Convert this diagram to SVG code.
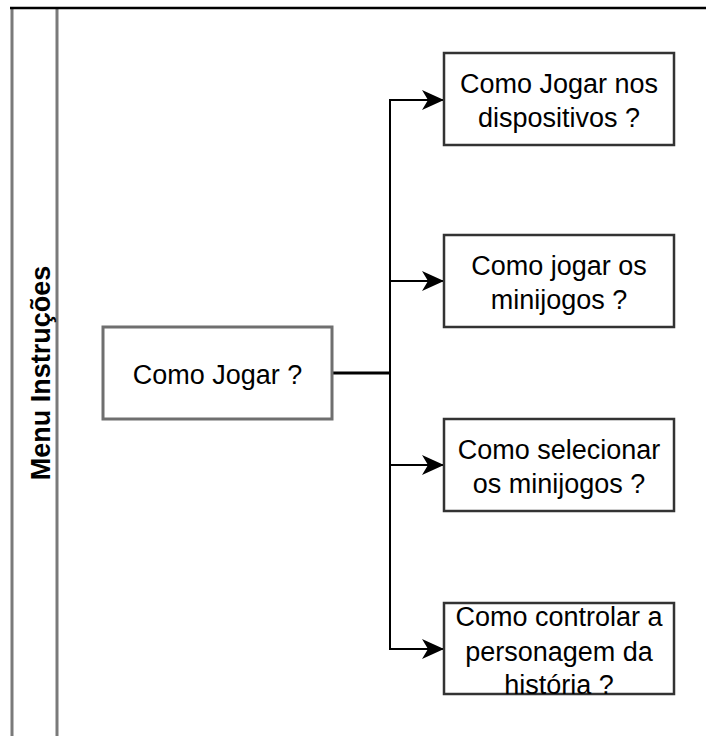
<svg xmlns="http://www.w3.org/2000/svg" width="706" height="736" viewBox="0 0 706 736">
<style>
text{font-family:"Liberation Sans",Arial,sans-serif;font-size:27px;fill:#000;text-anchor:middle}
.title{font-weight:bold}
.box{fill:#fff;stroke:#333;stroke-width:2.5}
.main{fill:#fff;stroke:#6f6f6f;stroke-width:3}
.lane{stroke:#7a7a7a;stroke-width:3;fill:none}
.edge{stroke:#000;stroke-width:2;fill:none}
</style>
<defs>
<marker id="arrow" markerUnits="userSpaceOnUse" markerWidth="24" markerHeight="22" viewBox="0 0 24 22" refX="22" refY="11" orient="auto">
<path d="M0,1 L22,11 L0,21 L6,11 Z" fill="#000"/>
</marker>
</defs>
<g id="pool">
<line class="lane" x1="12" y1="7" x2="12" y2="736"/>
<line class="lane" x1="57" y1="8" x2="57" y2="736"/>
<line x1="10" y1="8" x2="706" y2="8" stroke="#000" stroke-width="2.5"/>
<text class="title" x="50" y="373" transform="rotate(-90 50 373)">Menu Instruções</text>
</g>
<g id="connectors">
<line x1="332" y1="373" x2="390" y2="373" stroke="#000" stroke-width="3"/>
<line class="edge" x1="390" y1="99" x2="390" y2="649"/>
<line class="edge" x1="389" y1="100" x2="444" y2="100" marker-end="url(#arrow)"/>
<line class="edge" x1="389" y1="281" x2="444" y2="281" marker-end="url(#arrow)"/>
<line class="edge" x1="389" y1="465" x2="444" y2="465" stroke="#666" marker-end="url(#arrow)"/>
<line class="edge" x1="389" y1="649" x2="444" y2="649" marker-end="url(#arrow)"/>
</g>
<g id="como-jogar">
<rect class="main" x="103" y="327" width="229" height="92"/>
<text x="217.5" y="384">Como Jogar ?</text>
</g>
<g id="dispositivos">
<rect class="box" x="444" y="53" width="230" height="92"/>
<text x="559" y="93">Como Jogar nos</text>
<text x="559" y="127">dispositivos ?</text>
</g>
<g id="jogar-minijogos">
<rect class="box" x="444" y="235" width="230" height="92"/>
<text x="559" y="275">Como jogar os</text>
<text x="559" y="309">minijogos ?</text>
</g>
<g id="selecionar-minijogos">
<rect class="box" x="444" y="419" width="230" height="92"/>
<text x="559" y="459">Como selecionar</text>
<text x="559" y="493">os minijogos ?</text>
</g>
<g id="controlar-personagem">
<rect class="box" x="444" y="603" width="230" height="91"/>
<text x="559" y="626">Como controlar a</text>
<text x="559" y="661">personagem da</text>
<text x="559" y="694">história ?</text>
</g>
</svg>
